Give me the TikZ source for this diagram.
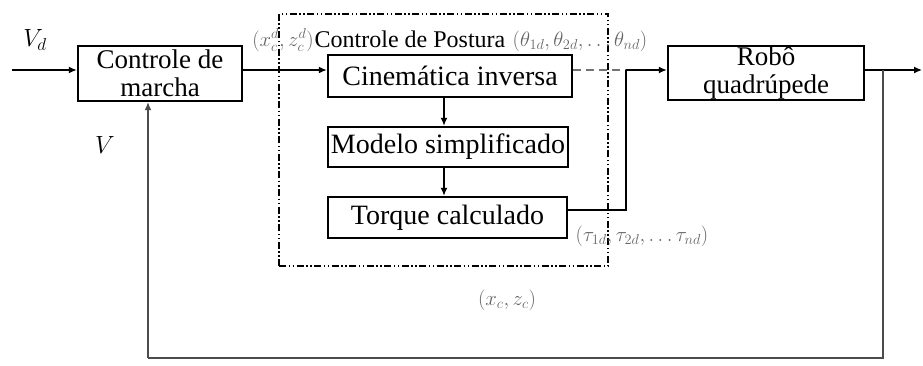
\documentclass[tikz,border=0pt]{standalone}
\usepackage{fontspec}
\setmainfont{Liberation Serif}
\usetikzlibrary{arrows.meta}
\begin{document}
\begin{tikzpicture}[x=1pt,y=-1pt,
  blk/.style={draw,line width=2.4pt,inner sep=0pt,align=center,
    font=\fontsize{27}{28}\selectfont},
  conn/.style={line width=1.4pt},
  arr/.style={conn,-{Latex[length=8pt,width=7pt]}},
  fb/.style={line width=1.2pt,black!70},
  lbl/.style={text=black!60,font=\fontsize{21}{24}\selectfont,inner sep=0pt},
  postura/.style={line width=1.3pt,dash pattern=on 7pt off 2.5pt on 1.5pt off 2.5pt on 1.5pt off 2.5pt}]
\useasboundingbox (0,0) rectangle (923,366);
% blocks
\node[blk,minimum width=164pt,minimum height=55pt] (cm) at (160,73.5) {Controle de\\marcha};
\node[blk,minimum width=244pt,minimum height=42pt,font=\fontsize{28}{28}\selectfont] (ci) at (450,76) {Cinemática inversa};
\node[blk,minimum width=240pt,minimum height=40pt,font=\fontsize{28}{28}\selectfont] (ms) at (448,147) {Modelo simplificado};
\node[blk,minimum width=239pt,minimum height=41pt,font=\fontsize{28}{28}\selectfont] (tc) at (447.5,217.5) {Torque calculado};
\node[blk,minimum width=196pt,minimum height=54pt] (rq) at (766,73) {Robô\\quadrúpede};
% posture frame
\node[postura,draw,minimum width=329pt,minimum height=252pt,inner sep=0pt] (pf) at (443.5,140) {};
% coordinates
\coordinate (in) at (12,70);
\coordinate (out) at (922,70);
\coordinate (j) at (626,70);
\coordinate (fr) at (883,70);
\coordinate (bl) at (148,358);
\coordinate (br) at (883,358);
% connectors
\draw[arr] (in) -- (cm.west |- in);
\draw[arr] (cm.east |- in) -- (ci.west |- in);
\draw[conn,black!55,dash pattern=on 8pt off 5pt] (ci.east |- in) -- (j);
\draw[arr] (j) -- (rq.west |- j);
\draw[conn] (tc.east |- 0,210) -| (j);
\draw[arr] (ci.south -| 444,0) -- (ms.north -| 444,0);
\draw[arr] (ms.south -| 444,0) -- (tc.north -| 444,0);
\draw[arr] (rq.east |- out) -- (out);
\draw[fb] (fr) -- (br) -- (bl);
\draw[fb,-{Latex[length=8pt,width=7pt]}] (bl) -- (cm.south -| bl);
% labels
\node[inner sep=0pt,font=\fontsize{26}{28}\selectfont] (vd) at (35,40) {$V_d$};
\node[inner sep=0pt,font=\fontsize{26}{28}\selectfont] (v) at (105,145) {$V$};
\node[lbl] (xd) at (283,40) {$(x_c^d,z_c^d)$};
\node[inner sep=0pt,font=\fontsize{24}{26}\selectfont] (pt) at (410,39) {Controle de Postura};
\node[lbl] (th) at (580,41) {$(\theta_{1d},\theta_{2d},\ldots\theta_{nd})$};
\node[lbl] (ta) at (642,236) {$(\tau_{1d},\tau_{2d},\ldots\tau_{nd})$};
\node[lbl] (xc) at (507,300) {$(x_c,z_c)$};
\end{tikzpicture}
\end{document}
